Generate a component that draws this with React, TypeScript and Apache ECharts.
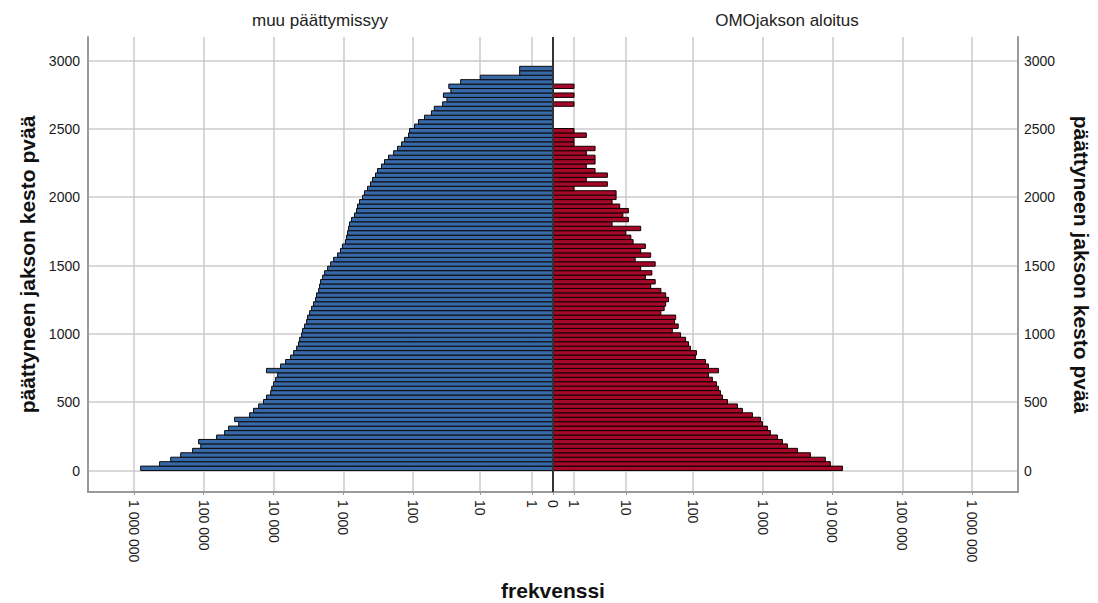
import React, { useEffect, useRef } from 'react';
import * as echarts from 'echarts';

// Bin width in days of the duration variable (bars are consecutive bins starting at 0)
const BIN_WIDTH = 32.5;

// Frequencies per bin, bottom (shortest) to top (longest)
const blueCounts = [
  796000, 427000, 296000, 213000, 144000, 110000, 118000, 65200, 50100, 43900,
  31500, 36000, 22000, 19300, 16300, 13900, 12600, 11000, 10600, 9970,
  9330, 8730, 12600, 7910, 6710, 5690, 5150, 4670, 4380, 4230,
  3960, 3840, 3590, 3360, 3250, 3040, 2850, 2670, 2500, 2420,
  2260, 2190, 2120, 1980, 1860, 1680, 1520, 1380, 1210, 1100,
  1030, 930, 900, 871, 843, 815, 763, 691, 647, 626,
  586, 531, 497, 450, 408, 382, 346, 324, 284, 257,
  225, 190, 167, 146, 132, 116, 112, 95, 83, 68,
  54, 49, 37, 32, 36, 28, 30, 20, 10, 2,
  2,
];

const redCounts = [
  13900, 9330, 7910, 4830, 3150, 2260, 1920, 1630, 1290, 1170,
  993, 930, 714, 513, 435, 313, 265, 248, 232, 217,
  190, 167, 232, 167, 151, 108, 112, 92, 86, 78,
  66, 50, 61, 54, 56, 34, 38, 40, 44, 40,
  34, 24, 28, 20, 25, 17, 28, 14, 24, 17,
  20, 13, 12, 10, 17, 6, 11, 9, 11, 8,
  6, 7, 7, 1, 5, 2, 5, 3, 2, 3,
  3, 2, 3, 1, 1, 2, 1, 0, 0, 0,
  0, 0, 1, 0, 1, 0, 1, 0, 0, 0,
  0,
];

const xTickCounts = [0, 1, 10, 100, 1000, 10000, 100000, 1000000];
const yTicks = [0, 500, 1000, 1500, 2000, 2500, 3000];

const leftTitle = 'muu päättymissyy';
const rightTitle = 'OMOjakson aloitus';
const yTitle = 'päättyneen jakson kesto pvää';
const xTitle = 'frekvenssi';

const X_HALF = 6.655; // axis half-range in log10(n + 1) units
const Y_MIN = -157;
const Y_MAX = 3172;

const FONT = '"Liberation Sans", Arial, Helvetica, sans-serif';

// safe-log scale of the frequency axis: log10(n + 1)
const toScale = (n: number) => Math.log10(n + 1);

const buildData = (counts: number[], sign: number) =>
  counts
    .map((c, k) => (c > 0 ? [sign * toScale(c), k * BIN_WIDTH, (k + 1) * BIN_WIDTH] : null))
    .filter((d) => d !== null) as number[][];

const xTickPositions = [
  ...xTickCounts.filter((c) => c > 0).map((c) => -toScale(c)).reverse(),
  0,
  ...xTickCounts.filter((c) => c > 0).map((c) => toScale(c)),
];

const fmtCount = (v: number) => {
  const n = Math.round(Math.pow(10, Math.abs(v)) - 1);
  return String(n).replace(/\B(?=(\d{3})+(?!\d))/g, ' ');
};

const makeRender = (fill: string, stroke: string) => (params: any, api: any) => {
  const v = api.value(0);
  const a = api.value(1);
  const b = api.value(2);
  const p0 = api.coord([0, b]);
  const p1 = api.coord([v, a]);
  return {
    type: 'rect',
    shape: {
      x: Math.min(p0[0], p1[0]),
      y: p0[1],
      width: Math.abs(p1[0] - p0[0]),
      height: p1[1] - p0[1],
    },
    style: { fill, stroke, lineWidth: 1 },
  };
};

export default function App() {
  const ref = useRef<HTMLDivElement>(null);

  useEffect(() => {
    if (!ref.current) return;
    const chart = echarts.init(ref.current, null, { renderer: 'svg' });
    const axisLineStyle = { color: '#9a9a9a', width: 2 };
    const gridLineStyle = { color: '#cbcbcb', width: 1.5 };
    const nameStyle = { fontSize: 21, fontWeight: 'bold', color: '#111', fontFamily: FONT };
    chart.setOption({
      animation: false,
      textStyle: { fontFamily: FONT },
      grid: { left: 88, right: 80, top: 37, bottom: 111, containLabel: false, outerBoundsMode: 'none' },
      xAxis: {
        type: 'value',
        min: -X_HALF,
        max: X_HALF,
        axisLine: { show: true, onZero: false, lineStyle: axisLineStyle },
        axisTick: { show: true, length: 3, customValues: xTickPositions, lineStyle: { color: '#9a9a9a' } },
        axisLabel: {
          customValues: xTickPositions,
          rotate: -90,
          margin: 8,
          fontSize: 14,
          color: '#1a1a1a',
          fontFamily: FONT,
          formatter: (v: number) => fmtCount(v),
        },
        splitLine: { show: true, lineStyle: gridLineStyle },
        name: xTitle,
        nameLocation: 'middle',
        nameGap: 88,
        nameTextStyle: nameStyle,
      },
      yAxis: [
        {
          type: 'value',
          min: Y_MIN,
          max: Y_MAX,
          position: 'left',
          axisLine: { show: true, onZero: false, lineStyle: axisLineStyle },
          axisTick: { show: false, customValues: yTicks },
          axisLabel: {
            customValues: yTicks,
            margin: 8,
            fontSize: 14,
            color: '#1a1a1a',
            fontFamily: FONT,
            formatter: (v: number) => String(Math.round(v)),
          },
          splitLine: { show: true, lineStyle: gridLineStyle },
          name: yTitle,
          nameLocation: 'middle',
          nameRotate: 90,
          nameGap: 46,
          nameTextStyle: nameStyle,
        },
        {
          type: 'value',
          min: Y_MIN,
          max: Y_MAX,
          position: 'right',
          axisLine: { show: true, onZero: false, lineStyle: axisLineStyle },
          axisTick: { show: false, customValues: yTicks },
          axisLabel: {
            customValues: yTicks,
            margin: 6,
            fontSize: 14,
            color: '#1a1a1a',
            fontFamily: FONT,
            formatter: (v: number) => String(Math.round(v)),
          },
          splitLine: { show: false },
          name: yTitle,
          nameLocation: 'middle',
          nameRotate: -90,
          nameGap: 53,
          nameTextStyle: nameStyle,
        },
      ],
      graphic: [
        {
          type: 'text',
          x: 320,
          y: 20,
          style: { text: leftTitle, fontSize: 17, fill: '#222', fontFamily: FONT, textAlign: 'center', textVerticalAlign: 'middle' },
        },
        {
          type: 'text',
          x: 787,
          y: 20,
          style: { text: rightTitle, fontSize: 17, fill: '#222', fontFamily: FONT, textAlign: 'center', textVerticalAlign: 'middle' },
        },
      ],
      series: [
        {
          name: leftTitle,
          type: 'custom',
          renderItem: makeRender('#3768a8', '#0c0c0c'),
          encode: { x: 0, y: [1, 2] },
          data: buildData(blueCounts, -1),
          clip: true,
        },
        {
          name: rightTitle,
          type: 'custom',
          renderItem: makeRender('#a50829', '#100000'),
          encode: { x: 0, y: [1, 2] },
          data: buildData(redCounts, 1),
          clip: true,
          markLine: {
            silent: true,
            symbol: 'none',
            label: { show: false },
            lineStyle: { color: '#333', width: 2, type: 'solid' },
            data: [{ xAxis: 0 }],
          },
        },
      ],
    });
    return () => chart.dispose();
  }, []);

  return (
    <div
      ref={ref}
      style={{ position: 'fixed', left: 0, top: 0, width: 1098, height: 603, background: '#fff' }}
    />
  );
}
